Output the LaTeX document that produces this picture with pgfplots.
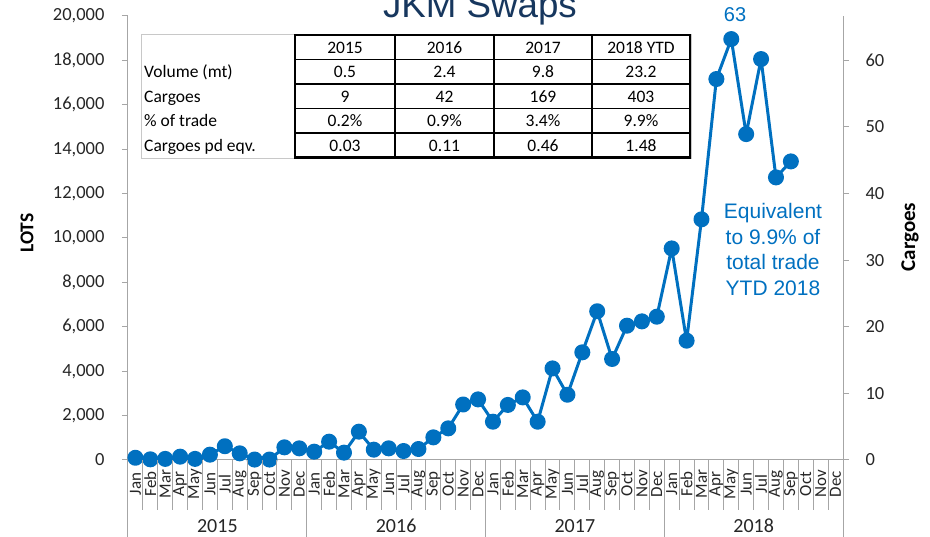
\documentclass[border=0pt]{standalone}
\usepackage{fontspec}
\setmainfont{Carlito}
\newfontfamily\arialfont{Liberation Sans}
\usepackage{pgfplots}
\pgfplotsset{compat=1.18}
\definecolor{jblue}{HTML}{0070C0}
\definecolor{navy}{HTML}{17375E}
\definecolor{axgray}{HTML}{A6A6A6}
\definecolor{txt}{HTML}{262626}
\definecolor{tblgray}{HTML}{C8C8C8}

\pgfplotstableread{
x y
0 100
1 30
2 50
3 150
4 50
5 240
6 620
7 300
8 20
9 20
10 570
11 525
12 375
13 825
14 330
15 1275
16 465
17 525
18 405
19 495
20 1020
21 1425
22 2500
23 2730
24 1725
25 2480
26 2820
27 1725
28 4125
29 2940
30 4850
31 6700
32 4550
33 6050
34 6245
35 6455
36 9530
37 5375
38 10840
39 17160
40 18960
41 14680
42 18060
43 12730
44 13450
}\lots

\begin{document}
\begin{tikzpicture}
\begin{axis}[
  at={(0,0)}, anchor=south west,
  scale only axis, width=715pt, height=444pt,
  xmin=-0.5, xmax=47.5, ymin=0, ymax=20000,
  axis y line*=left, axis x line*=bottom,
  axis line style={draw=axgray, line width=1pt, -},
  xtick=\empty,
  ytick={0,2000,...,20000},
  scaled y ticks=false,
  tick align=outside, major tick length=6pt,
  tick style={draw=axgray, line width=1pt},
  yticklabel style={font=\fontsize{18.5}{20}\selectfont, text=txt, anchor=east, xshift=-14pt},
  /pgf/number format/1000 sep={,},
  /pgf/number format/assume math mode=true,
  clip=false,
]
\addplot[jblue, line width=3pt, line join=round, mark=*, mark size=6.5pt,
  mark options={fill=jblue, draw=none, solid}] table[x=x,y=y] {\lots};
\end{axis}
\begin{axis}[
  at={(0,0)}, anchor=south west,
  scale only axis, width=715pt, height=444pt,
  xmin=-0.5, xmax=47.5, ymin=0, ymax=66.6667,
  axis y line*=right, axis x line=none,
  axis line style={draw=axgray, line width=1pt, -},
  xtick=\empty,
  ytick={0,10,...,60},
  tick align=outside, major tick length=6pt,
  tick style={draw=axgray, line width=1pt},
  yticklabel style={font=\fontsize{18.5}{20}\selectfont, text=txt, anchor=west, xshift=13pt},
  /pgf/number format/assume math mode=true,
]
\addplot[draw=none] coordinates {(0,0)};
\end{axis}
\begin{scope}[x=1pt, y=-1pt, shift={(-128pt,460pt)}]
  % category separators
  \foreach \k in {0,...,48}
    \draw[axgray, line width=1pt] ({128+14.896*\k},460) -- ({128+14.896*\k},510);
  \foreach \k in {0,12,24,36,48}
    \draw[axgray, line width=1pt] ({128+14.896*\k},460) -- ({128+14.896*\k},537);
  \foreach \yr in {0,...,3}{
    \foreach \m [count=\c from 0] in {Jan,Feb,Mar,Apr,May,Jun,Jul,Aug,Sep,Oct,Nov,Dec}{
      \node[rotate=90, font=\fontsize{17}{17}\selectfont, text=txt, inner sep=0pt]
        at ({128+14.896*(12*\yr+\c+0.5)},484) {\m};
    }
  }
  \foreach \yr/\lab in {0/2015,1/2016,2/2017,3/2018}
    \node[font=\fontsize{20}{22}\selectfont, text=txt, inner sep=0pt]
      at ({128+14.896*(12*\yr+6)},526) {\lab};
  % axis titles
  \node[rotate=90, font=\bfseries\fontsize{19.5}{22}\selectfont, text=black] at (27,233) {LOTS};
  \node[rotate=90, font=\bfseries\fontsize{21}{24}\selectfont, text=black] at (910,237) {Cargoes};
  % title
  \node[anchor=base, font=\arialfont\fontsize{36.7}{40}\selectfont, text=navy, inner sep=0pt] at (480,18) {JKM Swaps};
  % annotations
  \node[anchor=base, font=\arialfont\fontsize{20}{22}\selectfont, text=jblue, inner sep=0pt] at (735,22) {63};
  \node[align=center, font=\arialfont\fontsize{21}{25.7}\selectfont, text=jblue] at (773,249.5)
    {Equivalent\\to 9.9\% of\\total trade\\YTD 2018};
  % table
  \fill[white] (141,34.5) rectangle (691,158);
  \draw[tblgray, line width=0.8pt] (141,34.5) rectangle (691,158);
  \foreach \yy in {59.5,84,108.5,133}
    \draw[black, line width=1.5pt] (295,\yy) -- (690,\yy);
  \foreach \xx in {395,494,592}
    \draw[black, line width=2pt] (\xx,35) -- (\xx,157.5);
  \draw[black, line width=2.2pt] (295,35) rectangle (690,157.5);
  \begin{scope}[every node/.style={font=\fontsize{17.5}{20}\selectfont, text=black, inner sep=0pt}]
    \foreach \lab [count=\r from 1] in {Volume (mt),Cargoes,\% of trade,Cargoes pd eqv.}
      \node[anchor=base west] at (144,{47.25+24.5*\r+6}) {\lab};
    \foreach \cx/\a/\b/\c/\d/\e in {345/2015/0.5/9/0.2\%/0.03, 444.5/2016/2.4/42/0.9\%/0.11,
        543/2017/9.8/169/3.4\%/0.46, 641/2018 YTD/23.2/403/9.9\%/1.48}{
      \node[anchor=base] at (\cx,53.25) {\a};
      \node[anchor=base] at (\cx,77.75) {\b};
      \node[anchor=base] at (\cx,102.25) {\c};
      \node[anchor=base] at (\cx,126.75) {\d};
      \node[anchor=base] at (\cx,151.25) {\e};
    }
  \end{scope}
  \draw[axgray, line width=1pt] (128,460) -- (128,537);
  \draw[axgray, line width=1pt] (843,460) -- (843,537);
  \pgfresetboundingbox
  \path[use as bounding box] (0,0) rectangle (930,537);
\end{scope}
\end{tikzpicture}
\end{document}
